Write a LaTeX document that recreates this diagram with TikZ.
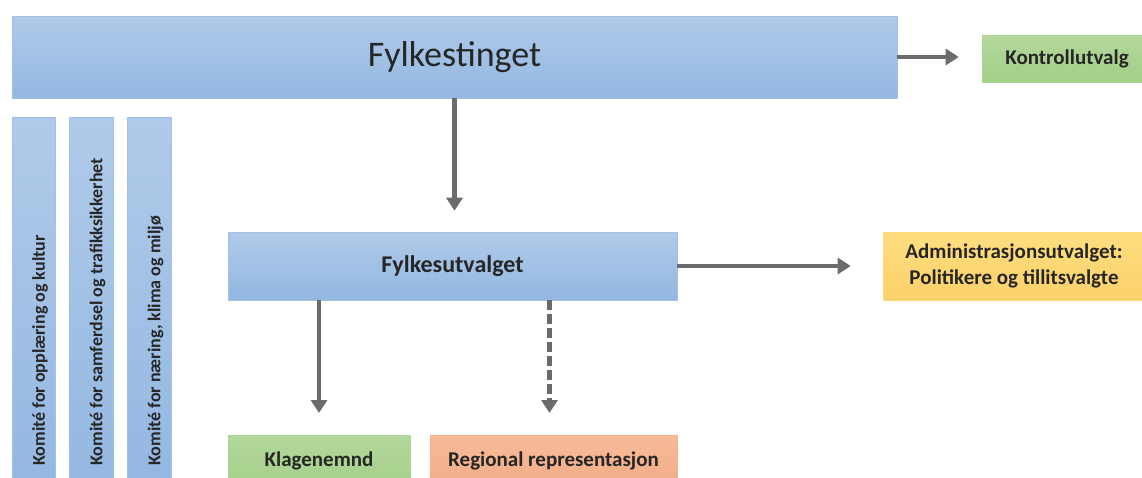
\documentclass[tikz,border=0pt]{standalone}
\usepackage{fontspec}
\setmainfont{Carlito}
\usetikzlibrary{arrows.meta}
\definecolor{txt}{HTML}{262626}
\definecolor{arrowgray}{HTML}{6B6B6B}
\definecolor{bluetop}{HTML}{B0CAE9}
\definecolor{bluebot}{HTML}{93B7E1}
\definecolor{blueedge}{HTML}{A3C1E6}
\definecolor{greentop}{HTML}{B3D79D}
\definecolor{greenbot}{HTML}{A3CE86}
\definecolor{greenedge}{HTML}{ADD494}
\definecolor{salmontop}{HTML}{F6BC99}
\definecolor{salmonbot}{HTML}{F2A884}
\definecolor{salmonedge}{HTML}{F4B38E}
\definecolor{yellowtop}{HTML}{FFDE80}
\definecolor{yellowbot}{HTML}{FCD16A}
\definecolor{yellowedge}{HTML}{FDD975}
\tikzset{
  box/.style={rectangle, inner sep=0pt, text=txt, draw=#1, line width=0.6pt},
  bluebox/.style={box=blueedge, top color=bluetop, bottom color=bluebot},
  labelfont/.style={text=txt, font=\bfseries\fontsize{21}{26}\selectfont},
  greenbox/.style={box=greenedge, top color=greentop, bottom color=greenbot, labelfont},
  salmonbox/.style={box=salmonedge, top color=salmontop, bottom color=salmonbot, labelfont},
  yellowbox/.style={box=yellowedge, top color=yellowtop, bottom color=yellowbot, labelfont, align=center},
  arr/.style={draw=arrowgray, line width=4.2pt, -{Triangle[length=13pt,width=16pt]}},
  dasharr/.style={arr, dash pattern=on 10pt off 4pt},
  comtext/.style={rotate=90, anchor=west, text=txt, font=\bfseries\fontsize{18}{20}\selectfont, inner sep=0pt}
}
\begin{document}
\begin{tikzpicture}[x=1pt, y=-1pt]
  \useasboundingbox (0,0) rectangle (1142,477);
  \clip (0,0) rectangle (1142,477);

  % council and its committees
  \node[bluebox, minimum width=885pt, minimum height=82pt,
        font=\fontsize{36}{40}\selectfont] (ft) at (454.5,57) {Fylkestinget};
  \node[greenbox, minimum width=170pt, minimum height=47pt] (ku) at (1067,58.5) {Kontrollutvalg};

  \node[bluebox, minimum width=43pt, minimum height=380pt] (k1) at (33.5,307) {};
  \node[bluebox, minimum width=44pt, minimum height=380pt] (k2) at (91,307) {};
  \node[bluebox, minimum width=44pt, minimum height=380pt] (k3) at (149,307) {};
  \node[comtext] (k1t) at (40,466) {Komité for opplæring og kultur};
  \node[comtext] (k2t) at (97.5,466) {Komité for samferdsel og trafikksikkerhet};
  \node[comtext] (k3t) at (155.5,466) {Komité for næring, klima og miljø};

  % executive committee and subordinate bodies
  \node[bluebox, minimum width=449pt, minimum height=68pt,
        font=\bfseries\fontsize{24}{28}\selectfont] (fu) at (452.5,266) {Fylkesutvalget};
  \node[yellowbox, minimum width=262pt, minimum height=68pt] (adm) at (1014,266)
        {Administrasjonsutvalget:\\Politikere og tillitsvalgte};
  \node[greenbox, minimum width=182pt, minimum height=60pt, anchor=north] (kl) at (319,435) {};
  \node[salmonbox, minimum width=247pt, minimum height=60pt, anchor=north] (rr) at (553.5,435) {};
  \node[labelfont] (klt) at (319,461) {Klagenemnd};
  \node[labelfont] (rrt) at (553.5,461) {Regional representasjon};

  % connectors
  \draw[arr, shorten >=23pt] (ft.east) -- (ft.east -| ku.west);
  \draw[arr, shorten >=21pt] (ft.south) -- (ft.south |- fu.north);
  \draw[arr, shorten >=32pt] (fu.east) -- (adm.west);
  \draw[arr, shorten >=22pt] (fu.south -| kl.north) -- (kl.north);
  \draw[dasharr, shorten >=22pt] ([xshift=-4pt]fu.south -| rr.north) -- ([xshift=-4pt]rr.north);
\end{tikzpicture}
\end{document}
